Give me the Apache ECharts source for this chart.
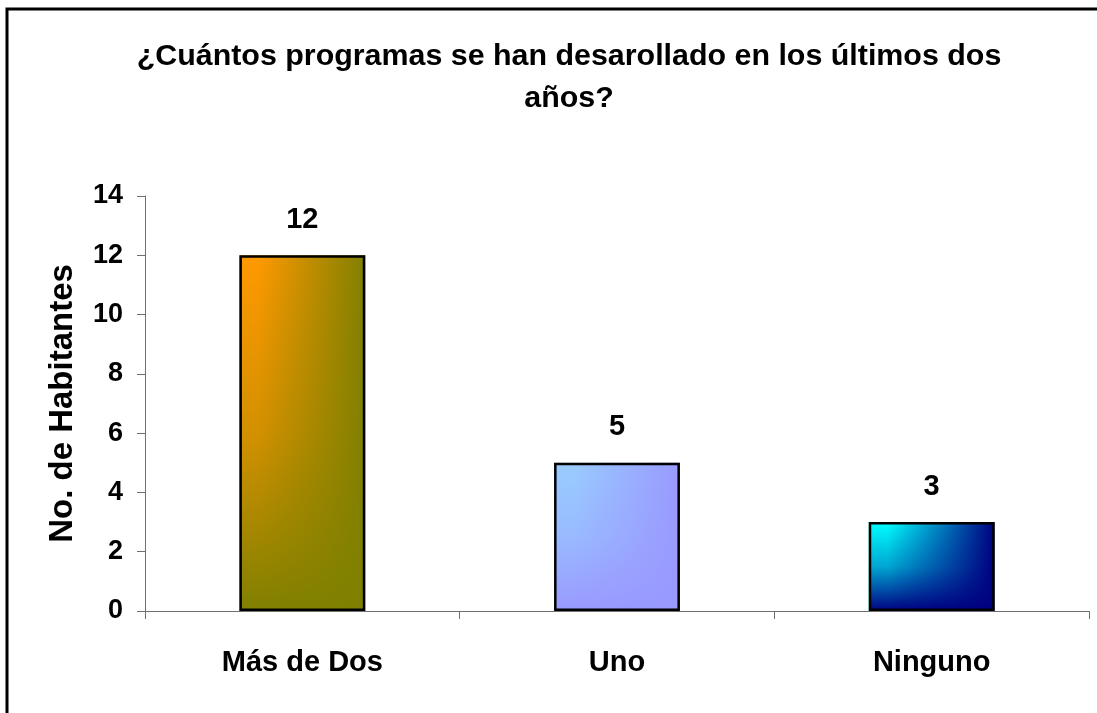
<!DOCTYPE html>
<html>
<head>
<meta charset="utf-8">
<script src="https://cdn.jsdelivr.net/npm/echarts@6/dist/echarts.min.js"></script>
<style>
    html, body { margin: 0; padding: 0; background: #fff; }
    #chart { width: 1097px; height: 713px; }
</style>
</head>
<body>
<div id="chart"></div>
<script>
const categories = ['Más de Dos', 'Uno', 'Ninguno'];
const values = [12, 5, 3];
const yTicks = { min: 0, max: 14, interval: 2 };

// colores: [claro arriba-izq, oscuro derecha/abajo]
const barColors = [
    ['#ff9900', '#808000'],
    ['#99ccff', '#9999ff'],
    ['#00ffff', '#000080']
];

const font = '"Liberation Sans", Arial, sans-serif';

const chart = echarts.init(document.getElementById('chart'));

// capa base: degradado horizontal
const baseData = values.map((v, i) => ({
    value: v,
    itemStyle: {
        color: {
            type: 'linear', x: 0, y: 0, x2: 1, y2: 0,
            colorStops: [
                { offset: 0, color: barColors[i][0] },
                { offset: 0.15, color: barColors[i][0] },
                { offset: 1, color: barColors[i][1] }
            ]
        }
    }
}));
// capa encima: degradado vertical transparente -> oscuro
const topData = values.map((v, i) => ({
    value: v,
    itemStyle: {
        color: {
            type: 'linear', x: 0, y: 0, x2: 0, y2: 1,
            colorStops: [
                { offset: 0, color: echarts.color.modifyAlpha(barColors[i][1], 0) },
                { offset: 0.5, color: echarts.color.modifyAlpha(barColors[i][1], 0.35) },
                { offset: 1, color: echarts.color.modifyAlpha(barColors[i][1], 1) }
            ]
        }
    }
}));

const option = {
    animation: false,
    backgroundColor: '#fff',
    title: {
        text: '¿Cuántos programas se han desarollado en los últimos dos\naños?',
        left: 564,
        textAlign: 'center',
        top: 31,
        textStyle: {
            fontFamily: font,
            fontWeight: 'bold',
            fontSize: 30.4,
            lineHeight: 42,
            color: '#000'
        }
    },
    graphic: [{
        type: 'rect',
        shape: { x: 7, y: 9, width: 1200, height: 800 },
        style: { fill: 'none', stroke: '#000', lineWidth: 3 },
        silent: true
    }],
    grid: {
        left: 145,
        right: 8,
        top: 196,
        bottom: 102
    },
    xAxis: {
        type: 'category',
        data: categories,
        axisLine: { lineStyle: { color: '#707070', width: 1 } },
        axisTick: { show: true, length: 8, lineStyle: { color: '#707070' } },
        axisLabel: {
            margin: 37,
            fontFamily: font,
            fontWeight: 'bold',
            fontSize: 29,
            color: '#000'
        }
    },
    yAxis: {
        type: 'value',
        min: yTicks.min,
        max: yTicks.max,
        interval: yTicks.interval,
        name: 'No. de Habitantes',
        nameLocation: 'middle',
        nameGap: 66,
        nameTextStyle: {
            fontFamily: font,
            fontWeight: 'bold',
            fontSize: 33,
            color: '#000'
        },
        splitLine: { show: false },
        axisLine: { show: true, lineStyle: { color: '#707070', width: 1 } },
        axisTick: { show: true, length: 8, lineStyle: { color: '#707070' } },
        axisLabel: {
            margin: 22,
            fontFamily: font,
            fontWeight: 'bold',
            fontSize: 27,
            color: '#000'
        }
    },
    series: [
        {
            type: 'bar',
            data: baseData,
            barWidth: '40%',
            barGap: '-100%',
            silent: true
        },
        {
            type: 'bar',
            data: topData,
            barWidth: '40%',
            barGap: '-100%',
            itemStyle: { borderColor: '#000', borderWidth: 2.5 },
            label: {
                show: true,
                position: 'top',
                distance: 21,
                fontFamily: font,
                fontWeight: 'bold',
                fontSize: 29,
                color: '#000'
            }
        }
    ]
};

chart.setOption(option);
</script>
</body>
</html>
